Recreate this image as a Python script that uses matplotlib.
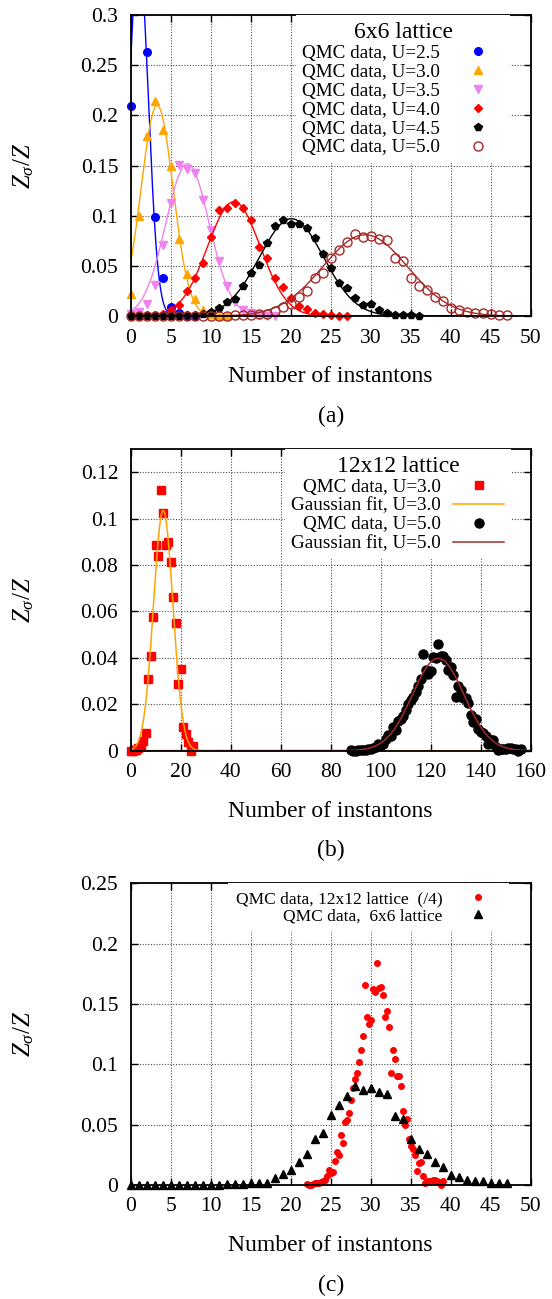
import numpy as np
import matplotlib.pyplot as plt
from matplotlib.ticker import MultipleLocator, FormatStrFormatter

plt.rcParams['font.family'] = 'Liberation Serif'
plt.rcParams['mathtext.fontset'] = 'custom'
plt.rcParams['mathtext.rm'] = 'Liberation Serif'
plt.rcParams['mathtext.it'] = 'Liberation Serif:italic'

##########################################
# DATA
##########################################

# 6x6 lattice, Z_sigma/Z vs number of instantons (x = 0, 1, 2, ...)
z6_u25 = [0.209, 0.379, 0.263, 0.099, 0.038, 0.0093, 0.0027, 0.0005, 0.0]
z6_u30 = [0.0216, 0.100, 0.179, 0.214, 0.185, 0.150, 0.077, 0.042, 0.0166,
          0.006, 0.002, 0.0005, 0.0]
z6_u35 = [0.002, 0.004, 0.012, 0.031, 0.071, 0.113, 0.151, 0.1465, 0.143,
          0.116, 0.086, 0.055, 0.030, 0.014, 0.006, 0.0027, 0.001, 0.0005, 0.0]
z6_u40 = [0.0005, 0.0005, 0.001, 0.001, 0.002, 0.006, 0.011, 0.025, 0.038,
          0.053, 0.079, 0.106, 0.108, 0.113, 0.108, 0.096, 0.069, 0.058,
          0.0375, 0.0286, 0.0176, 0.010, 0.0066, 0.0033, 0.002, 0.001,
          0.0005, 0.0005]
z6_u45 = [0.0, 0.0, 0.0, 0.0, 0.0003, 0.0005, 0.0005, 0.001, 0.001, 0.002,
          0.004, 0.0076, 0.014, 0.0166, 0.030, 0.043, 0.051, 0.073, 0.0897,
          0.0957, 0.0917, 0.0917, 0.088, 0.078, 0.062, 0.048, 0.0326, 0.0276,
          0.0176, 0.011, 0.012, 0.006, 0.0027, 0.001, 0.001, 0.001, 0.0005]
z6_u50 = [0.0, 0.0, 0.0, 0.0, 0.0, 0.0, 0.0, 0.0, 0.0, 0.0, 0.0002, 0.0003,
          0.0005, 0.0006, 0.0008, 0.0014, 0.002, 0.002, 0.0055, 0.009,
          0.0124, 0.019, 0.0254, 0.0379, 0.0428, 0.058, 0.066, 0.074, 0.082,
          0.0788, 0.080, 0.0768, 0.0755, 0.0575, 0.0547, 0.0379, 0.030, 0.026,
          0.019, 0.0146, 0.0083, 0.0064, 0.0041, 0.0033, 0.0033, 0.0019,
          0.0014, 0.0014]

# gaussian fits drawn in panel (a): amplitude, centre, width
fit6_amp = [0.36, 0.21, 0.152, 0.114, 0.097, 0.081]
fit6_mu = [1.0, 3.3, 7.1, 12.9, 20.1, 29.3]
fit6_sig = [1.2, 2.0, 2.72, 3.3, 4.0, 5.3]
u6_labels = ['QMC data, U=2.5', 'QMC data, U=3.0', 'QMC data, U=3.5',
             'QMC data, U=4.0', 'QMC data, U=4.5', 'QMC data, U=5.0']

# 12x12 lattice
n12_u30 = np.arange(0, 26)
z12_u30 = [0.0, 0.0, 0.0005, 0.001, 0.002, 0.004, 0.0078, 0.031, 0.041,
           0.0578, 0.0886, 0.084, 0.1124, 0.1026, 0.0886, 0.090, 0.0815,
           0.0664, 0.055, 0.0287, 0.035, 0.0103, 0.0072, 0.0039, 0.0, 0.002]
n12_u50 = np.arange(88, 157)
z12_u50 = [0.00025, 0.0, 0.0, 0.00025, 0.00035, 0.0005, 0.0005, 0.0006,
           0.00075, 0.001, 0.00175, 0.003, 0.0025, 0.00275, 0.005, 0.00675,
           0.00625, 0.01025, 0.00875, 0.013, 0.0135, 0.015, 0.0175, 0.02,
           0.022, 0.02325, 0.0255, 0.028, 0.03075, 0.0415, 0.03475, 0.03325,
           0.03425, 0.0405, 0.04, 0.046, 0.04075, 0.041, 0.03925, 0.03475,
           0.036, 0.03275, 0.02325, 0.028, 0.026, 0.0225, 0.0225, 0.0205,
           0.01525, 0.0125, 0.01375, 0.0095, 0.008, 0.0075, 0.00625, 0.0029,
           0.0045, 0.00475, 0.00175, 0.00035, 0.00075, 0.00075, 0.0008, 0.001,
           0.001, 0.00075, 0.0007, 0.0, 0.0009]

fit12_amp = [0.1035, 0.0398]
fit12_mu = [13.0, 123.0]
fit12_sig = [3.9, 10.3]


def gauss(x, a, mu, s):
    return a * np.exp(-(x - mu)**2 / (2 * s**2))


##########################################
# FIGURE
##########################################
fig = plt.figure(figsize=(5.52, 12.99), dpi=100)
ax_a = fig.add_axes([0.2368, 0.7567, 0.7246, 0.2317])
ax_b = fig.add_axes([0.2368, 0.4221, 0.7246, 0.2323])
ax_c = fig.add_axes([0.2368, 0.0878, 0.7246, 0.2323])

TICK_FS = 15.5
LABEL_FS = 17


def style_axes(ax, xmax, xstep, ymax, ystep, caption):
    ax.set_xlim(0, xmax)
    ax.set_ylim(0, ymax)
    ax.xaxis.set_major_locator(MultipleLocator(xstep))
    ax.yaxis.set_major_locator(MultipleLocator(ystep))
    ax.xaxis.set_major_formatter(FormatStrFormatter('%g'))
    ax.yaxis.set_major_formatter(FormatStrFormatter('%g'))
    ax.tick_params(direction='in', top=True, right=True, length=5, width=1,
                   labelsize=TICK_FS, pad=9)
    for sp in ax.spines.values():
        sp.set_linewidth(1.3)
    ax.set_axisbelow(True)
    ax.grid(True, color='0.3', lw=0.8, linestyle=(0, (1, 1.5)))
    ax.set_xlabel('Number of instantons', fontsize=LABEL_FS, va='center')
    ax.xaxis.set_label_coords(0.5, -0.202)
    ax.set_ylabel(r'$Z_\sigma/Z$', fontsize=LABEL_FS + 1, va='center')
    ax.yaxis.set_label_coords(-0.267, 0.5)
    ax.text(0.5, -0.332, caption, transform=ax.transAxes, ha='center',
            va='center', fontsize=LABEL_FS)


# gnuplot-like key: right-justified text, marker on the right, white box
key_opts = dict(loc='upper right', borderaxespad=0, markerfirst=False,
                numpoints=1, handlelength=2.7, fancybox=False, framealpha=1,
                edgecolor='none', facecolor='white')

# --- (a) ---
colors6 = ['#0000ff', '#ffa500', '#ee82ee', '#ff0000', '#000000', '#a52a2a']
markers6 = ['o', '^', 'v', 'D', 'p', 'o']
msizes6 = [5.5, 5.5, 6, 4.2, 5.8, 6.5]
x_fit = np.linspace(0, 50, 1000)
series6 = [z6_u25, z6_u30, z6_u35, z6_u40, z6_u45, z6_u50]
for i, z in enumerate(series6):
    c = colors6[i]
    ax_a.plot(x_fit, gauss(x_fit, fit6_amp[i], fit6_mu[i], fit6_sig[i]),
              color=c, lw=1.0)
    zz = np.ma.masked_greater(np.array(z), 0.3)
    if i == 5:
        ax_a.plot(np.arange(len(z)), zz, ls='none', marker='o', ms=msizes6[i],
                  mfc='none', mec=c, mew=1.0, label=u6_labels[i], clip_on=False)
    else:
        ax_a.plot(np.arange(len(z)), zz, ls='none', marker=markers6[i],
                  ms=msizes6[i], color=c, label=u6_labels[i], clip_on=False)
style_axes(ax_a, 50, 5, 0.3, 0.05, '(a)')
ax_a.legend(bbox_to_anchor=(0.949, 1.0), title='6x6 lattice',
            title_fontsize=17, fontsize=13.8, labelspacing=0.08,
            handletextpad=0.6, borderpad=0.35, **key_opts)

# --- (b) ---
x_fit12 = np.linspace(0, 160, 2000)
ax_b.plot(n12_u30, z12_u30, ls='none', marker='s', ms=6, color='#ff0000',
          label='QMC data, U=3.0', clip_on=False)
ax_b.plot(x_fit12, gauss(x_fit12, fit12_amp[0], fit12_mu[0], fit12_sig[0]),
          color='#ffa500', lw=1.1, label='Gaussian fit, U=3.0')
ax_b.plot(n12_u50, z12_u50, ls='none', marker='o', ms=6.5, color='#000000',
          label='QMC data, U=5.0', clip_on=False)
ax_b.plot(x_fit12, gauss(x_fit12, fit12_amp[1], fit12_mu[1], fit12_sig[1]),
          color='#a52a2a', lw=1.1, label='Gaussian fit, U=5.0')
style_axes(ax_b, 160, 20, 0.13, 0.02, '(b)')
ax_b.legend(bbox_to_anchor=(0.951, 1.0), title='12x12 lattice',
            title_fontsize=17, fontsize=13.8, labelspacing=0.08,
            handletextpad=0.6, borderpad=0.35, **key_opts)

# --- (c) --- 12x12 rescaled (x/4, y*4) against 6x6, both U=5.0
ax_c.plot(n12_u50 / 4, np.array(z12_u50) * 4, ls='none', marker='o', ms=4,
          color='#ff0000', label='QMC data, 12x12 lattice  (/4)', clip_on=False)
ax_c.plot(np.arange(len(z6_u50)), z6_u50, ls='none', marker='^', ms=5.2,
          color='#000000', label='QMC data,  6x6 lattice', clip_on=False)
style_axes(ax_c, 50, 5, 0.25, 0.05, '(c)')
ax_c.legend(bbox_to_anchor=(0.946, 1.0), fontsize=12.5, labelspacing=0.05,
            handletextpad=0.67, borderpad=0.45, **key_opts)

fig.savefig('out.png', dpi=100)
